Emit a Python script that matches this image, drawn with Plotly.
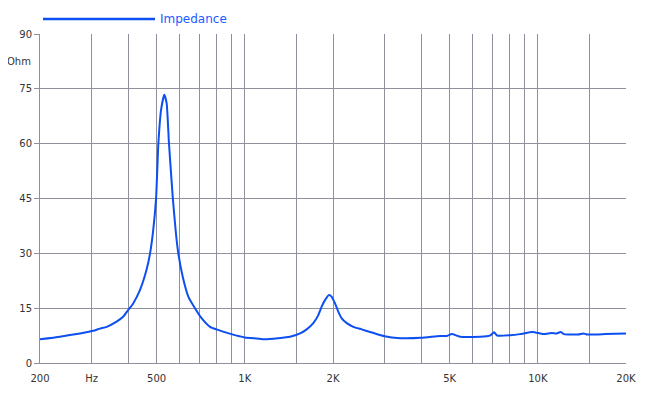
import plotly.graph_objects as go

# Impedance curve (frequency in Hz, impedance in Ohm)
freq_hz = [200, 234, 274, 304, 320, 338, 365, 385, 400, 416, 439, 462, 475, 487, 498, 507, 518, 531,
           541, 551, 568, 582, 593, 614, 642, 676, 713, 761, 800, 900, 1000,
           1100, 1170, 1300, 1426, 1544, 1626, 1713, 1782, 1829, 1878, 1938, 1980, 2032, 2086,
           2142, 2228, 2346, 2506, 2676, 3000, 3386, 4000, 4638, 4898, 5084, 5427, 6350, 6868,
           7088, 7274, 8038, 8692, 9608, 10440, 11154, 11600, 11970, 12286, 13748, 14300, 14690,
           17000, 20000]
impedance_ohm = [6.5, 7.2, 8.1, 8.8, 9.4, 9.9, 11.3, 12.7, 14.5, 16.3, 20.0, 25.5, 30.0, 36.4, 45.1, 60.1, 69.3, 73.4,
                 71.1, 60.1, 45.1, 35.5, 30.0, 23.6, 18.1, 15.0, 12.2, 9.9, 9.2, 7.9, 7.0,
                 6.7, 6.5, 6.8, 7.2, 8.1, 9.2, 10.9, 13.1, 15.4, 17.2, 18.6, 18.1, 16.3, 14.0,
                 12.2, 10.9, 9.9, 9.2, 8.5, 7.3, 6.8, 6.9, 7.4, 7.4, 7.9, 7.2, 7.2, 7.5,
                 8.4, 7.5, 7.6, 7.9, 8.5, 7.9, 8.2, 8.1, 8.5, 7.9, 7.8, 8.1, 7.8,
                 7.9, 8.1]

# Axis ticks / gridlines
x_grid_vals = [200, 300, 400, 500, 600, 700, 800, 900, 1000, 1500, 2000, 3000, 4000, 5000,
               6000, 7000, 8000, 9000, 10000, 15000, 20000]
x_grid_text = ["200", "Hz", "", "500", "", "", "", "", "1K", "", "2K", "", "", "5K",
               "", "", "", "", "10K", "", "20K"]
y_tick_vals = [0, 15, 30, 45, 60, 75, 90]
y_tick_text = ["0", "15", "30", "45", "60", "75", "90"]

series_name = "Impedance"
line_color = "#0d4ff0"
grid_color = "#8e919c"
text_color = "#333333"
font_family = "DejaVu Sans, Verdana, sans-serif"

fig = go.Figure()
fig.add_trace(go.Scatter(
    x=freq_hz, y=impedance_ohm, mode="lines", name=series_name,
    line=dict(color=line_color, width=2, shape="spline", smoothing=0.5),
    showlegend=False, hoverinfo="x+y",
))

# The page body has an 8px default margin, so the figure is 8px smaller
OFF = 8
W, H = 650 - OFF, 396 - OFF
L, R, T, B = 40 - OFF, 24, 34 - OFF, 33
pw = W - L - R
ph = H - T - B
legend_y_px = 19 - OFF  # from top of figure

fig.update_layout(
    width=W, height=H,
    margin=dict(l=L, r=R, t=T, b=B),
    paper_bgcolor="white", plot_bgcolor="white",
    font=dict(family=font_family, size=10, color=text_color),
    xaxis=dict(
        type="log", range=[2.30103, 4.30103],
        tickmode="array", tickvals=x_grid_vals, ticktext=x_grid_text,
        showgrid=True, gridcolor=grid_color, gridwidth=1,
        showline=True, linecolor=grid_color, linewidth=1,
        ticks="", tickfont=dict(size=10, color=text_color),
        ticklabelstandoff=6,
        zeroline=False, fixedrange=True,
    ),
    yaxis=dict(
        range=[0, 90],
        tickmode="array", tickvals=y_tick_vals, ticktext=y_tick_text,
        showgrid=True, gridcolor=grid_color, gridwidth=1,
        showline=True, linecolor=grid_color, linewidth=1,
        ticks="outside", ticklen=5, tickcolor=grid_color,
        tickfont=dict(size=10, color=text_color),
        zeroline=False, fixedrange=True,
    ),
    shapes=[dict(
        type="line", xref="paper", yref="paper",
        x0=(43 - OFF - L) / pw, x1=(155 - OFF - L) / pw,
        y0=(H - B - legend_y_px) / ph, y1=(H - B - legend_y_px) / ph,
        line=dict(color=line_color, width=2.5),
    )],
    annotations=[
        dict(text=series_name, xref="paper", yref="paper",
             x=(158 - OFF - L) / pw, y=(H - B - legend_y_px) / ph,
             xanchor="left", yanchor="middle", showarrow=False,
             font=dict(size=12, color="#1a5cff", family=font_family)),
        dict(text="Ohm", xref="paper", yref="y",
             x=(33 - OFF - L) / pw, y=82.5,
             xanchor="right", yanchor="middle", showarrow=False,
             font=dict(size=10, color=text_color, family=font_family)),
    ],
)

fig.write_html("out.html")
